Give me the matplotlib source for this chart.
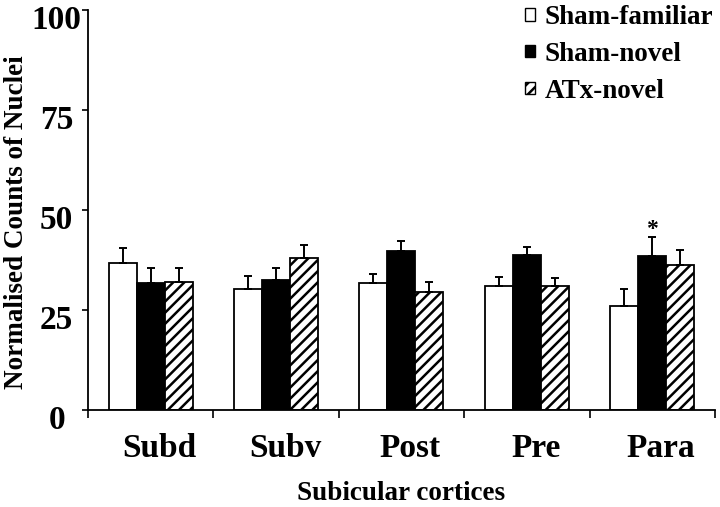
import matplotlib
matplotlib.use("Agg")
import matplotlib.pyplot as plt
import matplotlib.transforms as mtransforms
import numpy as np

plt.rcParams['font.family'] = ['Liberation Serif', 'DejaVu Serif']
plt.rcParams['font.weight'] = 'bold'
plt.rcParams['hatch.linewidth'] = 1.8

categories = ["Subd", "Subv", "Post", "Pre", "Para"]
series_names = ["Sham-familiar", "Sham-novel", "ATx-novel"]
sham_familiar = [36.6, 30.1, 31.6, 30.9, 25.9]
sham_familiar_err = [3.9, 3.4, 2.2, 2.3, 4.2]
sham_novel = [31.6, 32.3, 39.7, 38.7, 38.5]
sham_novel_err = [3.9, 3.2, 2.4, 2.1, 4.8]
atx_novel = [32.0, 38.0, 29.5, 30.9, 36.2]
atx_novel_err = [3.5, 3.2, 2.3, 2.1, 3.7]
yticks = [0, 25, 50, 75, 100]
star_group = 4

fig = plt.figure(figsize=(7.2, 5.07), dpi=100)
ax = fig.add_axes([0.122, 0.1923, 0.871, 0.788])

x = np.arange(len(categories)) + 0.5
w = 0.223
data = [(sham_familiar, sham_familiar_err, dict(facecolor='white', hatch=None)),
        (sham_novel, sham_novel_err, dict(facecolor='black', hatch=None)),
        (atx_novel, atx_novel_err, dict(facecolor='white', hatch='///'))]
handles = []
for i, (vals, errs, st) in enumerate(data):
    pos = x + (i - 1) * w
    b = ax.bar(pos, vals, w, edgecolor='black', linewidth=1.3, label=series_names[i], **st)
    handles.append(b)
    ax.errorbar(pos, vals, yerr=[np.zeros(len(vals)), errs], fmt='none', ecolor='black',
                elinewidth=1.4, capsize=3, capthick=1.4)

ax.text(x[star_group], sham_novel[star_group] + sham_novel_err[star_group] + 0.4, '*',
        ha='center', va='baseline', fontsize=17, fontweight='bold')

ax.set_xlim(0, 5)
ax.set_ylim(0, 100)
ax.spines['top'].set_visible(False)
ax.spines['right'].set_visible(False)
ax.spines['left'].set_linewidth(1.3)
ax.spines['bottom'].set_linewidth(1.3)
ax.set_yticks(yticks)
ax.set_yticklabels([str(t) for t in yticks], fontsize=24, fontweight='bold')
ax.tick_params(axis='y', direction='out', length=4, width=1.2, pad=18.5)
yoff = mtransforms.ScaledTranslation(0, -0.07, fig.dpi_scale_trans)
for lab in ax.get_yticklabels():
    lab.set_horizontalalignment('center')
    lab.set_transform(lab.get_transform() + yoff)
ax.set_xticks(x)
ax.set_xticklabels(categories, fontsize=24, fontweight='bold')
ax.tick_params(axis='x', which='major', length=0, pad=17)
offset = mtransforms.ScaledTranslation(0.09, 0, fig.dpi_scale_trans)
for lab in ax.get_xticklabels():
    lab.set_transform(lab.get_transform() + offset)
ax.set_xticks(np.arange(0, 6), minor=True)
ax.tick_params(axis='x', which='minor', direction='out', length=6, width=1.2)
ax.set_ylabel('Normalised Counts of Nuclei', fontsize=19.5, fontweight='bold')
ax.yaxis.set_label_coords(-0.094, 0.47)
ax.set_xlabel('Subicular cortices', fontsize=19.5, fontweight='bold', labelpad=12)

leg = ax.legend(handles=handles, loc='upper right', bbox_to_anchor=(1.014, 1.04), frameon=False,
                fontsize=19.5, handlelength=0.35, handleheight=0.35, handletextpad=0.35,
                labelspacing=0.44, borderaxespad=0)
for p in leg.get_patches():
    p.set_linewidth(1.0)

fig.savefig('out.png', dpi=100)
